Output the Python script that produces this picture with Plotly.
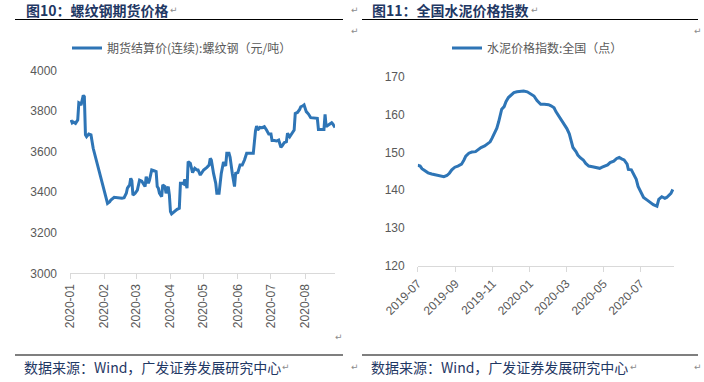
import plotly.graph_objects as go

# ---------------- data ----------------
rebar_dates = [
    "2020-01-02", "2020-01-03", "2020-01-04", "2020-01-06", "2020-01-08", "2020-01-09", "2020-01-10",
    "2020-01-11", "2020-01-13", "2020-01-14", "2020-01-15", "2020-01-16", "2020-01-18", "2020-01-20",
    "2020-01-22", "2020-02-04", "2020-02-06", "2020-02-07", "2020-02-10", "2020-02-13", "2020-02-15",
    "2020-02-17", "2020-02-19", "2020-02-21", "2020-02-22", "2020-02-24", "2020-02-25", "2020-02-26",
    "2020-02-27", "2020-02-29", "2020-03-02", "2020-03-04", "2020-03-06", "2020-03-08", "2020-03-09",
    "2020-03-10", "2020-03-12", "2020-03-13", "2020-03-15", "2020-03-17", "2020-03-19", "2020-03-20",
    "2020-03-21", "2020-03-22", "2020-03-24", "2020-03-25", "2020-03-27", "2020-03-28", "2020-03-30",
    "2020-03-31", "2020-04-01", "2020-04-02", "2020-04-04", "2020-04-07", "2020-04-09", "2020-04-10",
    "2020-04-12", "2020-04-13", "2020-04-14", "2020-04-16", "2020-04-17", "2020-04-19", "2020-04-21",
    "2020-04-23", "2020-04-25", "2020-04-26", "2020-04-28", "2020-04-29", "2020-05-01", "2020-05-04",
    "2020-05-06", "2020-05-07", "2020-05-08", "2020-05-10", "2020-05-12", "2020-05-13", "2020-05-15",
    "2020-05-17", "2020-05-18", "2020-05-19", "2020-05-21", "2020-05-22", "2020-05-24", "2020-05-25",
    "2020-05-27", "2020-05-29", "2020-05-30", "2020-06-01", "2020-06-03", "2020-06-05", "2020-06-07",
    "2020-06-09", "2020-06-12", "2020-06-15", "2020-06-17", "2020-06-18", "2020-06-19", "2020-06-21",
    "2020-06-23", "2020-06-25", "2020-06-27", "2020-06-29", "2020-07-01", "2020-07-02", "2020-07-04",
    "2020-07-06", "2020-07-08", "2020-07-10", "2020-07-11", "2020-07-13", "2020-07-15", "2020-07-16",
    "2020-07-18", "2020-07-20", "2020-07-22", "2020-07-23", "2020-07-25", "2020-07-27", "2020-07-28",
    "2020-07-30", "2020-07-31", "2020-08-02", "2020-08-04", "2020-08-06", "2020-08-10", "2020-08-12",
    "2020-08-13", "2020-08-16", "2020-08-18", "2020-08-19", "2020-08-20", "2020-08-22", "2020-08-25",
    "2020-08-26", "2020-08-28",
]
rebar_values = [
    3757, 3743, 3747, 3740, 3757, 3842, 3839,
    3830, 3878, 3872, 3683, 3674, 3687, 3683,
    3617, 3345, 3353, 3362, 3375, 3373, 3368,
    3370, 3373, 3395, 3420, 3436, 3469, 3457,
    3386, 3395, 3411, 3460, 3455, 3436, 3428,
    3477, 3444, 3460, 3510, 3506, 3502, 3428,
    3420, 3395, 3378, 3436, 3428, 3395, 3428,
    3386, 3304, 3293, 3304, 3316, 3321, 3444,
    3444, 3441, 3464, 3420, 3551, 3543, 3497,
    3518, 3510, 3510, 3485, 3493, 3510, 3523,
    3534, 3567, 3559, 3493, 3444, 3395, 3395,
    3493, 3530, 3549, 3530, 3592, 3592, 3572,
    3493, 3428, 3493, 3497, 3534, 3534, 3559,
    3592, 3592, 3592, 3704, 3727, 3707, 3720,
    3719, 3724, 3707, 3687, 3687, 3655, 3655,
    3653, 3658, 3622, 3628, 3645, 3650, 3691,
    3674, 3691, 3707, 3789, 3794, 3809, 3822,
    3827, 3831, 3798, 3786, 3768, 3768, 3765,
    3710, 3710, 3710, 3785, 3724, 3732, 3743,
    3737, 3720,
]

cement_dates = [
    "2019-07-01", "2019-07-05", "2019-07-08", "2019-07-12", "2019-07-18", "2019-07-24", "2019-07-30",
    "2019-08-03", "2019-08-08", "2019-08-13", "2019-08-18", "2019-08-22", "2019-08-26", "2019-08-31",
    "2019-09-05", "2019-09-11", "2019-09-15", "2019-09-18", "2019-09-23", "2019-09-28", "2019-10-04",
    "2019-10-08", "2019-10-13", "2019-10-19", "2019-10-24", "2019-10-28", "2019-10-31", "2019-11-04",
    "2019-11-08", "2019-11-11", "2019-11-14", "2019-11-16", "2019-11-20", "2019-11-23", "2019-11-27",
    "2019-12-02", "2019-12-06", "2019-12-11", "2019-12-17", "2019-12-22", "2019-12-28", "2020-01-02",
    "2020-01-08", "2020-01-13", "2020-01-19", "2020-01-25", "2020-02-01", "2020-02-05", "2020-02-10",
    "2020-02-13", "2020-02-18", "2020-02-23", "2020-02-27", "2020-03-02", "2020-03-06", "2020-03-09",
    "2020-03-12", "2020-03-17", "2020-03-20", "2020-03-24", "2020-03-29", "2020-04-02", "2020-04-07",
    "2020-04-13", "2020-04-19", "2020-04-25", "2020-04-29", "2020-05-04", "2020-05-08", "2020-05-12",
    "2020-05-18", "2020-05-23", "2020-05-27", "2020-05-31", "2020-06-04", "2020-06-09", "2020-06-11",
    "2020-06-16", "2020-06-21", "2020-06-24", "2020-06-27", "2020-07-02", "2020-07-06", "2020-07-12",
    "2020-07-17", "2020-07-22", "2020-07-28", "2020-07-31", "2020-08-05", "2020-08-10", "2020-08-13",
    "2020-08-17", "2020-08-20", "2020-08-23",
]
cement_values = [
    146.6, 146.4, 145.7, 145.2, 144.6, 144.3, 144.1,
    143.9, 143.8, 143.6, 143.9, 144.5, 145.4, 146.1,
    146.4, 146.9, 148.0, 149.0, 149.8, 150.1, 150.2,
    150.8, 151.3, 151.7, 152.2, 152.8, 153.7, 155.0,
    156.4, 158.1, 159.9, 161.4, 162.1, 163.4, 164.5,
    165.3, 165.8, 166.0, 166.2, 166.2, 166.0, 165.6,
    164.9, 163.7, 162.7, 162.7, 162.6, 162.3, 161.8,
    160.8, 159.6, 158.1, 157.2, 156.3, 154.9, 153.1,
    151.3, 150.2, 149.3, 148.6, 148.0, 147.1, 146.4,
    146.2, 145.9, 145.8, 146.1, 146.4, 146.7, 147.3,
    147.7, 148.4, 148.7, 148.3, 148.0, 146.9, 145.5,
    145.4, 143.8, 142.9, 141.0, 139.4, 138.1, 137.4,
    136.7, 136.2, 135.8, 137.6, 138.3, 137.9, 138.1,
    138.7, 139.2, 140.2,
]

left_title = "图10：螺纹钢期货价格"
right_title = "图11：全国水泥价格指数"
left_name = "期货结算价(连续):螺纹钢（元/吨）"
right_name = "水泥价格指数:全国（点）"
source_text = "数据来源：Wind，广发证券发展研究中心"

# ---------------- figure ----------------
W, H = 704, 382
LINE = "#2E75B6"
TICK = "#595959"
AXIS = "#D9D9D9"
NAVY = "#1F3864"
LAT = "Arial, 'Liberation Sans', 'Noto Sans CJK SC', sans-serif"
CJK = "'Noto Sans CJK SC', Arial, sans-serif"

def px(x):
    return x / W

def py(y):
    return 1 - y / H

fig = go.Figure()
fig.add_trace(go.Scatter(x=rebar_dates, y=rebar_values, mode="lines", name=left_name,
                         line=dict(color=LINE, width=3), xaxis="x", yaxis="y", legend="legend"))
fig.add_trace(go.Scatter(x=cement_dates, y=cement_values, mode="lines", name=right_name,
                         line=dict(color=LINE, width=3), xaxis="x2", yaxis="y2", legend="legend2"))

xcommon = dict(type="date", showgrid=False, zeroline=False, showline=True, linecolor=AXIS,
               linewidth=1, ticks="outside", ticklen=5, tickcolor=AXIS, automargin=False,
               tickfont=dict(family=LAT, size=12, color=TICK), tickformat="%Y-%m")
ycommon = dict(showgrid=False, zeroline=False, showline=False, ticks="", automargin=False,
               tickfont=dict(family=LAT, size=12, color=TICK), ticklabelstandoff=12)

fig.update_layout(
    width=W, height=H, margin=dict(l=0, r=0, t=0, b=0, autoexpand=False),
    paper_bgcolor="white", plot_bgcolor="white",
    xaxis=dict(xcommon, domain=[px(70), px(335)], anchor="y",
               range=["2020-01-01", "2020-08-28"], tick0="2020-01-01", dtick="M1", tickangle=-90),
    yaxis=dict(ycommon, domain=[py(273.3), py(70.7)], anchor="x", range=[3000, 4000], dtick=200),
    xaxis2=dict(xcommon, domain=[px(417.7), px(674)], anchor="y2",
                range=["2019-07-01", "2020-08-25"], tick0="2019-07-01", dtick="M2", tickangle=-45),
    yaxis2=dict(ycommon, domain=[py(266), py(76.7)], anchor="x2", range=[120, 170], dtick=10),
    legend=dict(x=px(67), y=py(48), xanchor="left", yanchor="middle", orientation="h",
                font=dict(family=CJK, size=12, color=TICK), bgcolor="rgba(0,0,0,0)"),
    legend2=dict(x=px(447), y=py(48), xanchor="left", yanchor="middle", orientation="h",
                 font=dict(family=CJK, size=12, color=TICK), bgcolor="rgba(0,0,0,0)"),
    showlegend=True,
)

shapes = []
for (x0, x1) in [(15, 343), (362, 698)]:
    for yy in (19.5, 355):
        shapes.append(dict(type="line", xref="paper", yref="paper", x0=px(x0), x1=px(x1),
                           y0=py(yy), y1=py(yy), line=dict(color="black", width=1.2)))
fig.update_layout(shapes=shapes)

ann = []
ann.append(dict(text="<b>" + left_title + "</b>", x=px(24), y=py(10), xanchor="left", yanchor="middle",
                font=dict(family=CJK, size=14, color=NAVY)))
ann.append(dict(text="<b>" + right_title + "</b>", x=px(370), y=py(10), xanchor="left", yanchor="middle",
                font=dict(family=CJK, size=14, color=NAVY)))
ann.append(dict(text=source_text, x=px(22), y=py(367), xanchor="left", yanchor="middle",
                font=dict(family=CJK, size=14, color=NAVY)))
ann.append(dict(text=source_text, x=px(369), y=py(367), xanchor="left", yanchor="middle",
                font=dict(family=CJK, size=14, color=NAVY)))
# paragraph marks
for (mx, my) in [(174, 10), (535, 10), (355, 10), (355, 31), (698, 31), (339, 337),
                 (286, 367), (634, 367), (355, 367), (698, 367)]:
    ann.append(dict(text="↵", x=px(mx), y=py(my), xanchor="center", yanchor="middle",
                    font=dict(family="DejaVu Sans", size=9, color="#8C8C8C")))
for a in ann:
    a.update(xref="paper", yref="paper", showarrow=False)
fig.update_layout(annotations=ann)

fig.write_html("out.html", config={"displayModeBar": False, "staticPlot": True},
               post_script="document.body.style.margin='0';document.body.style.overflow='hidden';")
